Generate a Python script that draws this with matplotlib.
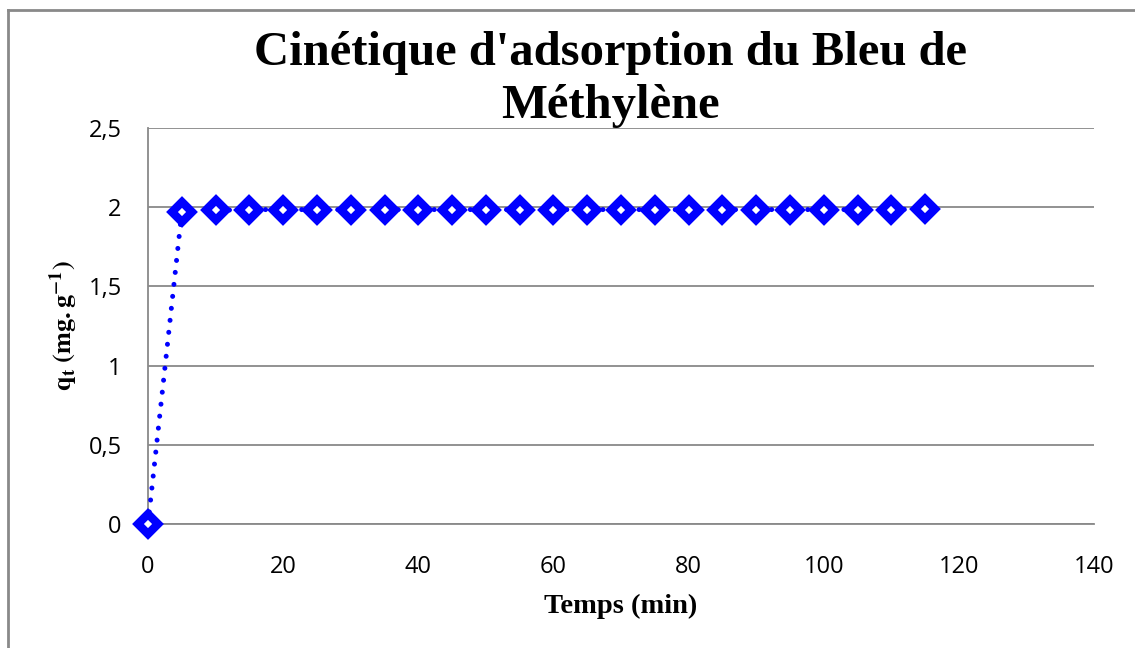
import numpy as np
import matplotlib.pyplot as plt
from matplotlib.lines import Line2D

plt.rcParams["mathtext.fontset"] = "stix"

# data
temps = [0, 5, 10, 15, 20, 25, 30, 35, 40, 45, 50, 55, 60, 65, 70, 75, 80,
         85, 90, 95, 100, 105, 110, 115]
qt = [0, 1.97, 1.98, 1.985, 1.985, 1.985, 1.985, 1.985, 1.985, 1.985, 1.985,
      1.985, 1.985, 1.985, 1.985, 1.985, 1.985, 1.985, 1.985, 1.985, 1.985,
      1.985, 1.985, 1.99]
x_ticks = [0, 20, 40, 60, 80, 100, 120, 140]
y_ticks = [0, 0.5, 1, 1.5, 2, 2.5]
y_labels = ["0", "0,5", "1", "1,5", "2", "2,5"]

W, H = 1135, 648
fig = plt.figure(figsize=(W / 100, H / 100), dpi=100)
ax = fig.add_axes([148 / W, 1 - 524 / H, (1094 - 148) / W, (524 - 128) / H])

line, = ax.plot(temps, qt, color="#0000FF", linestyle=(0, (0.01, 2.4)),
                linewidth=3.6, marker="D", markersize=10,
                markerfacecolor="white", markeredgecolor="#0000FF",
                markeredgewidth=6, clip_on=False, zorder=3)
line.set_dash_capstyle("round")

ax.set_xlim(0, 140)
ax.set_ylim(0, 2.5)
ax.set_xticks(x_ticks)
ax.set_yticks(y_ticks)
ax.set_yticklabels(y_labels)
ax.tick_params(length=0, labelsize=17)
ax.tick_params(axis="x", pad=22)
ax.tick_params(axis="y", pad=19)
for lab in ax.get_xticklabels() + ax.get_yticklabels():
    lab.set_fontfamily("Open Sans")
ax.grid(axis="y", color="#898989", linewidth=1.3)
ax.set_axisbelow(True)
for side in ["top", "right"]:
    ax.spines[side].set_visible(False)
for side in ["left", "bottom"]:
    ax.spines[side].set_color("#898989")
    ax.spines[side].set_linewidth(1.3)

ax.set_xlabel("Temps (min)", fontfamily="Liberation Serif", fontweight="bold",
              fontsize=20.5, labelpad=11)
ax.set_ylabel(r"$\mathbf{q_t\ (mg{.}g^{-1})}$", fontsize=19, labelpad=6)

fig.text(610 / W, 1 - 65 / H, "Cinétique d'adsorption du Bleu de",
         ha="center", va="baseline", fontfamily="Liberation Serif",
         fontweight="bold", fontsize=35)
fig.text(610 / W, 1 - 118 / H, "Méthylène",
         ha="center", va="baseline", fontfamily="Liberation Serif",
         fontweight="bold", fontsize=35)

# chart border (top and left edges visible)
fig.add_artist(Line2D([8 / W, 8 / W], [0, 1 - 10 / H],
                      transform=fig.transFigure, color="#898989", linewidth=2))
fig.add_artist(Line2D([8 / W, 1], [1 - 10 / H, 1 - 10 / H],
                      transform=fig.transFigure, color="#898989", linewidth=2))

fig.savefig("out.png", dpi=100)
